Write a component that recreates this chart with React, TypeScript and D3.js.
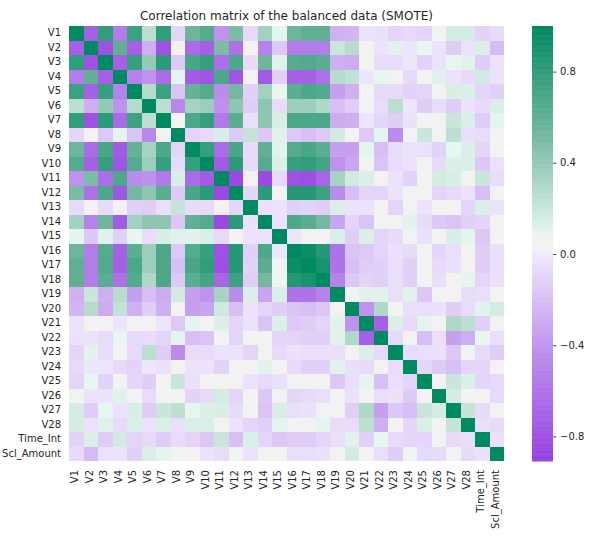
import React, { useEffect, useRef } from 'react';
import * as d3 from 'd3';

const labels = ['V1', 'V2', 'V3', 'V4', 'V5', 'V6', 'V7', 'V8', 'V9', 'V10', 'V11', 'V12', 'V13', 'V14', 'V15', 'V16', 'V17', 'V18', 'V19', 'V20', 'V21', 'V22', 'V23', 'V24', 'V25', 'V26', 'V27', 'V28', 'Time_Int', 'Scl_Amount'];

// lower triangle of the correlation matrix, one row per variable
const rowV2 = [-.72];
const rowV3 = [.8, -.8];
const rowV4 = [-.55, .6, -.72];
const rowV5 = [.76, -.72, .78, -.52];
const rowV6 = [.25, -.28, .4, -.42, .28];
const rowV7 = [.8, -.8, .82, -.65, .75, .25];
const rowV8 = [-.09, .05, -.16, .1, -.18, -.48, .05];
const rowV9 = [.55, -.65, .7, -.75, .58, .33, .68, -.1];
const rowV10 = [.65, -.72, .78, -.78, .65, .37, .78, -.07, .78];
const rowV11 = [-.42, .5, -.63, .68, -.45, -.43, -.56, .15, -.65, -.75];
const rowV12 = [.5, -.62, .68, -.78, .53, .43, .62, -.15, .7, .82, -.85];
const rowV13 = [-.08, .05, -.07, .05, -.12, -.13, -.05, .22, -.07, -.07, .05, -.09];
const rowV14 = [.35, -.5, .55, -.75, .35, .43, .43, -.17, .6, .65, -.85, .82, -.04];
const rowV15 = [.1, -.17, .12, -.12, .09, -.06, .15, .12, .11, .14, -.08, .05, -.03, -.03];
const rowV16 = [.55, -.55, .65, -.7, .62, .37, .68, -.16, .65, .78, -.8, .85, -.12, .68, -.02];
const rowV17 = [.6, -.55, .67, -.72, .68, .37, .68, -.2, .7, .8, -.82, .85, -.11, .63, .05, .96];
const rowV18 = [.6, -.53, .62, -.62, .66, .3, .68, -.16, .62, .72, -.68, .75, -.13, .53, .05, .85, .9];
const rowV19 = [-.27, .2, -.28, .27, -.35, -.2, -.3, .17, -.35, -.42, .33, -.45, .14, -.33, .14, -.6, -.6, -.5];
const rowV20 = [-.25, .27, -.3, .23, -.27, -.13, -.28, .05, -.35, -.33, .18, -.2, -.03, -.1, -.13, -.18, -.2, -.17, .05];
const rowV21 = [-.03, .05, .05, -.02, .05, .05, -.02, -.16, .1, .05, .13, -.1, -.03, -.18, .13, -.16, -.13, -.1, .11, -.42];
const rowV22 = [-.04, -.03, -.06, .09, -.08, -.06, -.09, .1, -.2, -.18, .05, -.1, .05, .05, -.1, -.1, -.12, -.12, .12, .3, -.72];
const rowV23 = [-.1, .11, -.06, .05, -.07, .26, -.13, -.45, -.06, -.06, -.03, -.03, -.1, .05, -.07, -.04, -.05, -.05, -.05, .05, .14, -.08];
const rowV24 = [-.08, -.02, -.02, -.08, -.11, -.02, -.04, .05, -.03, -.03, -.11, .05, .05, .11, .05, -.07, -.12, -.12, .11, -.05, -.07, .05, -.06];
const rowV25 = [-.1, .09, -.11, .05, -.09, -.13, .05, .2, -.04, .05, .05, .05, -.03, -.07, -.04, .05, .05, .05, -.17, -.05, .1, -.2, -.05, -.09];
const rowV26 = [.05, -.03, -.03, .12, .05, -.06, .05, .05, -.11, -.07, .16, -.1, .05, -.17, .05, -.09, -.07, -.05, .05, -.04, .05, -.05, -.04, -.15, .05];
const rowV27 = [.16, -.14, .09, -.03, .15, -.14, .2, .25, .09, .13, .15, -.07, .05, -.18, .15, -.05, -.04, .05, .05, -.13, .3, -.35, -.17, -.2, .2, .16];
const rowV28 = [.16, -.03, .12, -.07, .14, -.03, .14, -.05, .14, .14, .05, -.03, -.1, -.12, .1, .05, .05, .1, -.06, -.06, .25, -.28, .05, -.09, .14, .05, .22];
const rowTime = [-.11, .14, -.14, .17, -.1, -.07, -.14, -.06, -.1, -.17, .2, -.2, .14, -.1, -.17, -.13, -.14, -.09, -.05, .11, -.12, .09, -.07, -.09, -.09, .05, -.07, -.05];
const rowAmount = [-.07, -.22, -.03, -.03, -.12, .14, .1, .05, .05, -.03, -.06, .05, -.03, .05, .05, -.05, -.05, -.04, .05, .16, .05, -.05, -.13, .05, -.08, -.07, .05, -.07, -.04];

const rows = [[], rowV2, rowV3, rowV4, rowV5, rowV6, rowV7, rowV8, rowV9, rowV10, rowV11, rowV12, rowV13, rowV14, rowV15, rowV16, rowV17, rowV18, rowV19, rowV20, rowV21, rowV22, rowV23, rowV24, rowV25, rowV26, rowV27, rowV28, rowTime, rowAmount];

const vMin = -0.908;
const vMax = 1;
const barTicks = [-0.8, -0.4, 0, 0.4, 0.8];

// two ramps and a grey band in 256 steps, the mid stops are matched by eye to the reference
const purpleStops = ['#9641e2', '#ba8cec', '#f0eafc'];
const greenStops = ['#e8f6f1', '#70b69c', '#008a62'];
const midGrey = '#f2f2f2';
const nHalf = 123;

const palette = [
  ...d3.quantize(d3.piecewise(d3.interpolateRgb, purpleStops), nHalf),
  ...d3.range(10).map(() => midGrey),
  ...d3.quantize(d3.piecewise(d3.interpolateRgb, greenStops), nHalf),
];

const colorScale = d3.scaleQuantize<string>().domain([vMin, vMax]).range(palette);

const textColor = '#262626';

function value(i: number, j: number) {
  if (i === j) return 1;
  return i > j ? rows[i][j] : rows[j][i];
}

export default function App() {
  const ref = useRef<SVGSVGElement>(null);

  useEffect(() => {
    const svg = d3.select(ref.current);
    svg.selectAll('*').remove();

    const x = d3.scaleBand().domain(labels).range([69, 504]);
    const y = d3.scaleBand().domain(labels).range([26, 461]);

    const cells = labels.flatMap((_, i) => labels.map((_, j) => ({ i, j, v: value(i, j) })));
    svg.append('g')
      .selectAll('rect')
      .data(cells)
      .join('rect')
      .attr('x', d => x(labels[d.j]))
      .attr('y', d => y(labels[d.i]))
      .attr('width', x.bandwidth())
      .attr('height', y.bandwidth())
      .attr('shape-rendering', 'crispEdges')
      .attr('fill', d => colorScale(d.v));

    const xAxis = svg.append('g')
      .attr('transform', 'translate(0,461)')
      .call(d3.axisBottom(x).tickSize(0).tickPadding(0));
    xAxis.selectAll('text')
      .attr('transform', 'rotate(-90)')
      .attr('dy', '2px')
      .attr('y', 0)
      .attr('x', -9)
      .attr('text-anchor', 'end');

    const yAxis = svg.append('g')
      .attr('transform', 'translate(69,0)')
      .call(d3.axisLeft(y).tickSize(0).tickPadding(8));

    // colour bar
    const barScale = d3.scaleLinear().domain([vMin, vMax]).range([461, 26]);
    const barStep = (vMax - vMin) / palette.length;
    svg.append('g')
      .selectAll('rect')
      .data(palette)
      .join('rect')
      .attr('x', 532)
      .attr('width', 21)
      .attr('y', (_, i) => barScale(vMin + (i + 1) * barStep))
      .attr('height', (_, i) => barScale(vMin + i * barStep) - barScale(vMin + (i + 1) * barStep) + 0.5)
      .attr('fill', d => d);

    const barAxis = svg.append('g')
      .attr('transform', 'translate(553,0)')
      .call(d3.axisRight(barScale).tickValues(barTicks).tickFormat(d3.format('.1f')).tickSize(3.5).tickPadding(3.5));

    [xAxis, yAxis, barAxis].forEach(a => {
      a.select('.domain').remove();
      a.attr('font-family', '"DejaVu Sans"').attr('font-size', 10);
      a.selectAll('text').attr('fill', textColor);
      a.selectAll('line').attr('stroke', textColor).attr('stroke-width', 0.8);
    });

    svg.append('text')
      .attr('x', 286.5)
      .attr('y', 20)
      .attr('text-anchor', 'middle')
      .attr('font-family', '"DejaVu Sans"')
      .attr('font-size', 12)
      .attr('fill', textColor)
      .text('Correlation matrix of the balanced data (SMOTE)');
  }, []);

  return <svg ref={ref} width={612} height={540} style={{ position: 'absolute', left: 0, top: 0 }} />;
}
